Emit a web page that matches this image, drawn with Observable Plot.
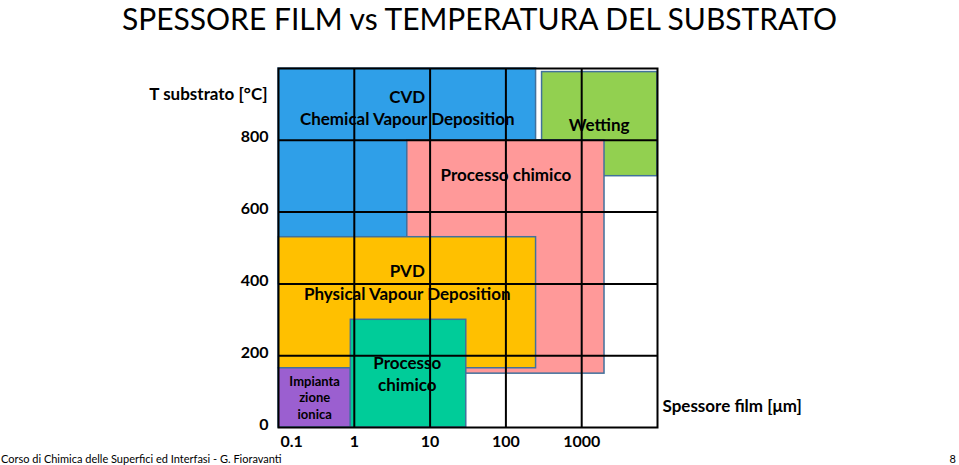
<!DOCTYPE html>
<html><head><meta charset="utf-8">
<script src="https://cdn.jsdelivr.net/npm/d3@7"></script>
<script src="https://cdn.jsdelivr.net/npm/@observablehq/plot@0.6"></script>
<style>
html,body{margin:0;padding:0;background:#fff;}
body{width:959px;height:465px;overflow:hidden;font-family:Lato,"DejaVu Sans",sans-serif;color:#000;}
#title{height:44px;font-size:30px;line-height:36px;text-align:center;white-space:nowrap;}
#chart svg{display:block;}
#footer{height:13px;font-size:11px;line-height:13px;position:relative;padding-left:1px;}
#footer .pg{position:absolute;right:3px;top:0;}
</style></head><body>
<div id="title">SPESSORE FILM vs TEMPERATURA DEL SUBSTRATO</div>
<div id="chart"></div>
<div id="footer"><span>Corso di Chimica delle Superfici ed Interfasi - G. Fioravanti</span><span class="pg">8</span></div>
<script>
// Regions (drawn in this order)
const regions = ["CVD", "Wetting", "Processo chimico", "PVD", "Impiantazione ionica", "Processo chimico (film sottili)"];
const thicknessFrom = [0.1, 300, 5, 0.1, 0.1, 0.9];
const thicknessTo   = [250, 10000, 2000, 250, 0.9, 30];
const tempFrom      = [400, 700, 150, 165, 0, 0];
const tempTo        = [1000, 990, 800, 530, 165, 300];
const regionColors  = ["#2f9fe8", "#92d050", "#ff9999", "#ffc000", "#9b5fd0", "#00cc99"];

// Labels inside the regions
const labelText = ["CVD", "Chemical Vapour Deposition", "Wetting", "Processo chimico", "PVD", "Physical Vapour Deposition", "Processo", "chimico", "Impianta", "zione", "ionica"];
const labelX    = [5, 5, 1700, 100, 5, 5, 5, 5, 0.3, 0.3, 0.3];
const labelY    = [919, 858, 841, 702, 435, 370, 178, 117, 128, 82, 35];
const labelSize = [17, 17, 17, 17, 17, 17, 17, 17, 13, 13, 13];

// Axes
const xTicks = [0.1, 1, 10, 100, 1000];
const xGrid = [1, 10, 100, 1000];
const yTicks = [0, 200, 400, 600, 800];
const yGrid = [200, 400, 600, 800];
const yTitle = "T substrato [°C]";
const xTitle = "Spessore film [μm]";

const idx = d3.range(regions.length);
const lidx = d3.range(labelText.length);
const font = "Lato, 'DejaVu Sans', sans-serif";

const chart = Plot.plot({
  width: 959, height: 408,
  marginLeft: 278, marginRight: 302, marginTop: 24, marginBottom: 25,
  x: {type: "log", domain: [0.1, 10000]},
  y: {domain: [0, 1000]},
  style: {fontFamily: font, color: "#000", background: "#fff"},
  marks: [
    Plot.rect(idx, {
      x1: i => thicknessFrom[i], x2: i => thicknessTo[i],
      y1: i => tempFrom[i], y2: i => tempTo[i],
      fill: i => regionColors[i], stroke: "#41719c", strokeWidth: 1.5
    }),
    Plot.ruleX(xGrid, {stroke: "#000", strokeWidth: 2}),
    Plot.ruleY(yGrid, {stroke: "#000", strokeWidth: 2}),
    Plot.frame({stroke: "#000", strokeWidth: 2}),
    Plot.text(lidx.filter(i => labelSize[i] === 17), {
      x: i => labelX[i], y: i => labelY[i], text: i => labelText[i],
      fontSize: 17, fontWeight: "bold", fill: "#000"
    }),
    Plot.text(lidx.filter(i => labelSize[i] === 13), {
      x: i => labelX[i], y: i => labelY[i], text: i => labelText[i],
      fontSize: 13, fontWeight: "bold", fill: "#000"
    }),
    Plot.axisY(yTicks, {tickSize: 0, tickPadding: 10, fontSize: 16, fontWeight: "bold", label: null, dy: -3, tickFormat: d => String(d)}),
    Plot.axisX([xTicks[0]], {tickSize: 0, tickPadding: 8, fontSize: 16, fontWeight: "bold", label: null, textAnchor: "start", dx: 2, tickFormat: d => String(d)}),
    Plot.axisX(xTicks.slice(1), {tickSize: 0, tickPadding: 8, fontSize: 16, fontWeight: "bold", label: null, tickFormat: d => String(d)}),
    Plot.text([yTitle], {frameAnchor: "top-left", textAnchor: "end", dx: -11, dy: 19, fontSize: 17, fontWeight: "bold"}),
    Plot.text([xTitle], {frameAnchor: "bottom-right", textAnchor: "start", dx: 5, dy: -16, fontSize: 17, fontWeight: "bold"})
  ]
});
document.getElementById("chart").appendChild(chart);
</script>
</body></html>
